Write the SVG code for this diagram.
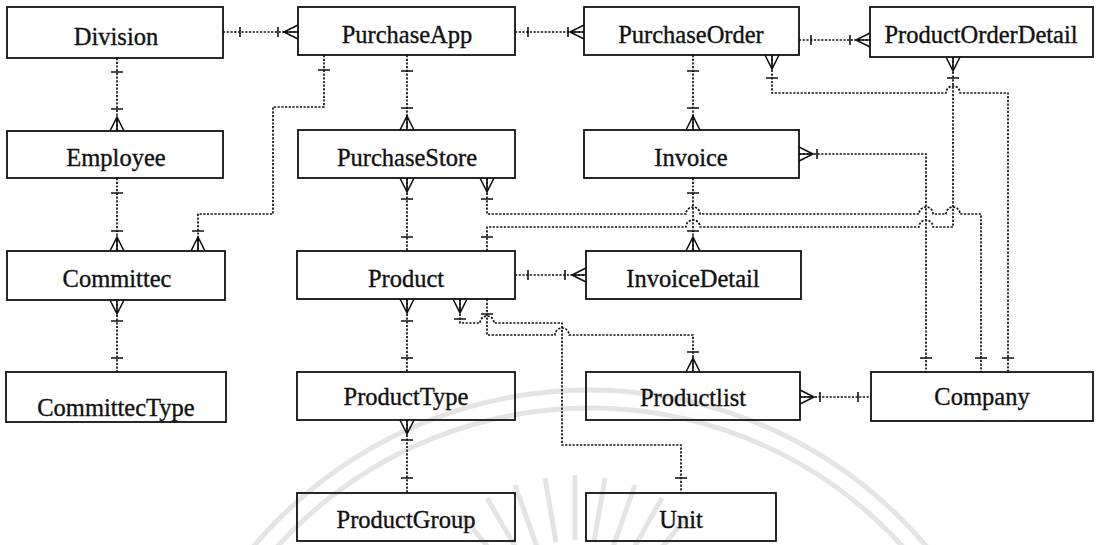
<svg xmlns="http://www.w3.org/2000/svg" width="1099" height="545" viewBox="0 0 1099 545">
  <style>
    .box { fill: none; stroke: #111; stroke-width: 1.8; }
    .label { font-family: "Liberation Serif", "Times New Roman", serif; font-size: 24.5px; fill: #111; stroke: #111; stroke-width: 0.35; text-anchor: middle; }
    .rel { fill: none; stroke: #111; stroke-width: 1.7; stroke-dasharray: 2.2 1.5; stroke-linejoin: round; }
    .mark { fill: none; stroke: #111; stroke-width: 1.6; stroke-linecap: butt; }
    .wm { fill: none; stroke: #e4e4e4; stroke-width: 5; }
  </style>
  <rect width="1099" height="545" fill="#fff"/>

  <!-- faint seal in the background -->
  <g id="watermark">
    <circle class="wm" cx="590" cy="830" r="440"/>
    <circle class="wm" cx="590" cy="830" r="422"/>
    <path class="wm" d="M504 566 L462 516 M520 555 L487 498 M537 547 L515 485 M556 542 L545 478 M575 540 L575 475 M594 542 L605 478 M613 547 L635 485 M630 555 L662 498 M646 566 L688 516"/>
  </g>

  <!-- relationships: dotted links, one/many end marks -->
  <g id="connectors">
    <!-- Division - PurchaseApp -->
    <path class="rel" d="M223 32 H298"/>
    <path class="mark" d="M240 27 V37 M278 27 V37 M298 25 L284 32 L298 39 M284 32 H298"/>
    <!-- PurchaseApp - PurchaseOrder -->
    <path class="rel" d="M515 32 H584"/>
    <path class="mark" d="M528 27 V37 M568 27 V37 M584 25 L570 32 L584 39 M570 32 H584"/>
    <!-- PurchaseOrder - ProductOrderDetail -->
    <path class="rel" d="M799 40 H870"/>
    <path class="mark" d="M811 35 V45 M850 35 V45 M870 33 L856 40 L870 47 M856 40 H870"/>
    <!-- Division - Employee -->
    <path class="rel" d="M117 58 V131"/>
    <path class="mark" d="M111 72 H123 M111 109 H123 M110 131 L117 117 L124 131 M117 117 V131"/>
    <!-- Employee - Committec -->
    <path class="rel" d="M117 178 V251"/>
    <path class="mark" d="M111 193 H123 M111 231 H123 M110 251 L117 237 L124 251 M117 237 V251"/>
    <!-- PurchaseApp - Committec -->
    <path class="rel" d="M324 55 V107 H273 V214 H198 V251"/>
    <path class="mark" d="M318 70 H330 M192 231 H204 M191 251 L198 237 L205 251 M198 237 V251"/>
    <!-- PurchaseApp - PurchaseStore -->
    <path class="rel" d="M407 55 V130"/>
    <path class="mark" d="M401 71 H413 M401 108 H413 M400 130 L407 116 L414 130 M407 116 V130"/>
    <!-- PurchaseOrder - Invoice -->
    <path class="rel" d="M693 55 V130"/>
    <path class="mark" d="M687 71 H699 M687 108 H699 M686 130 L693 116 L700 130 M693 116 V130"/>
    <!-- PurchaseOrder - Company -->
    <path class="rel" d="M772 55 V93 H946 A7 7 0 0 1 960 93 H1008 V372"/>
    <path class="mark" d="M765 55 L772 69 L779 55 M772 55 V69 M766 78 H778 M1002 358 H1014"/>
    <!-- ProductOrderDetail - Product -->
    <path class="rel" d="M953 57 V227 H933 A7 7 0 0 0 919 227 H700 A7 7 0 0 0 686 227 H487 V251"/>
    <path class="mark" d="M946 57 L953 71 L960 57 M953 57 V71 M947 78 H959 M481 237 H493"/>
    <!-- Invoice - Company -->
    <path class="rel" d="M799 154 H926 V372"/>
    <path class="mark" d="M799 147 L813 154 L799 161 M799 154 H813 M817 149 V159 M920 358 H932"/>
    <!-- Invoice - InvoiceDetail -->
    <path class="rel" d="M693 178 V251"/>
    <path class="mark" d="M687 193 H699 M687 231 H699 M686 251 L693 237 L700 251 M693 237 V251"/>
    <!-- PurchaseStore - Company -->
    <path class="rel" d="M487 178 V214 H686 A7 7 0 0 1 700 214 H919 A7 7 0 0 1 933 214 H946 A7 7 0 0 1 960 214 H981 V372"/>
    <path class="mark" d="M480 178 L487 192 L494 178 M487 178 V192 M481 199 H493 M975 358 H987"/>
    <!-- PurchaseStore - Product -->
    <path class="rel" d="M407 178 V251"/>
    <path class="mark" d="M400 178 L407 192 L414 178 M407 178 V192 M401 199 H413 M401 237 H413"/>
    <!-- Product - InvoiceDetail -->
    <path class="rel" d="M515 275 H586"/>
    <path class="mark" d="M528 270 V280 M565 270 V280 M586 268 L572 275 L586 282 M572 275 H586"/>
    <!-- Product - ProductType -->
    <path class="rel" d="M407 299 V372"/>
    <path class="mark" d="M400 299 L407 313 L414 299 M407 299 V313 M401 321 H413 M401 358 H413"/>
    <!-- ProductType - ProductGroup -->
    <path class="rel" d="M407 420 V493"/>
    <path class="mark" d="M400 420 L407 434 L414 420 M407 420 V434 M401 440 H413 M401 478 H413"/>
    <!-- Committec - CommittecType -->
    <path class="rel" d="M117 300 V372"/>
    <path class="mark" d="M110 300 L117 314 L124 300 M117 300 V314 M111 321 H123 M111 358 H123"/>
    <!-- Product - Unit -->
    <path class="rel" d="M460 299 V323 H480 A7 7 0 0 1 494 323 H562 V445 H681 V493"/>
    <path class="mark" d="M453 299 L460 313 L467 299 M460 299 V313 M454 319 H466 M675 478 H687"/>
    <!-- Product - Productlist -->
    <path class="rel" d="M487 299 V335 H555 A7 7 0 0 1 569 335 H693 V372"/>
    <path class="mark" d="M481 314 H493 M687 352 H699 M686 372 L693 358 L700 372 M693 358 V372"/>
    <!-- Productlist - Company -->
    <path class="rel" d="M800 397 H871"/>
    <path class="mark" d="M800 390 L814 397 L800 404 M800 397 H814 M820 392 V402 M858 392 V402"/>
  </g>

  <!-- entities -->
  <g id="division"><rect class="box" x="7" y="7" width="216" height="51"/><text class="label" x="116" y="45">Division</text></g>
  <g id="employee"><rect class="box" x="7" y="131" width="216" height="47"/><text class="label" x="116" y="166">Employee</text></g>
  <g id="committec"><rect class="box" x="7" y="251" width="218" height="49"/><text class="label" x="117" y="287">Committec</text></g>
  <g id="committec-type"><rect class="box" x="6" y="372" width="220" height="50"/><text class="label" x="116" y="416">CommittecType</text></g>
  <g id="purchase-app"><rect class="box" x="298" y="7" width="217" height="48"/><text class="label" x="407" y="43">PurchaseApp</text></g>
  <g id="purchase-store"><rect class="box" x="298" y="130" width="217" height="48"/><text class="label" x="407" y="166">PurchaseStore</text></g>
  <g id="product"><rect class="box" x="297" y="251" width="218" height="48"/><text class="label" x="406" y="287">Product</text></g>
  <g id="product-type"><rect class="box" x="297" y="372" width="218" height="48"/><text class="label" x="406" y="405">ProductType</text></g>
  <g id="product-group"><rect class="box" x="297" y="493" width="218" height="48"/><text class="label" x="406" y="528">ProductGroup</text></g>
  <g id="purchase-order"><rect class="box" x="584" y="7" width="215" height="48"/><text class="label" x="691" y="43">PurchaseOrder</text></g>
  <g id="invoice"><rect class="box" x="584" y="130" width="215" height="48"/><text class="label" x="691" y="166">Invoice</text></g>
  <g id="invoice-detail"><rect class="box" x="586" y="251" width="215" height="48"/><text class="label" x="693" y="287">InvoiceDetail</text></g>
  <g id="productlist"><rect class="box" x="586" y="372" width="214" height="48"/><text class="label" x="693" y="406">Productlist</text></g>
  <g id="unit"><rect class="box" x="586" y="493" width="190" height="48"/><text class="label" x="681" y="528">Unit</text></g>
  <g id="product-order-detail"><rect class="box" x="870" y="7" width="223" height="50"/><text class="label" x="981" y="43">ProductOrderDetail</text></g>
  <g id="company"><rect class="box" x="871" y="372" width="222" height="49"/><text class="label" x="982" y="405">Company</text></g>
</svg>
